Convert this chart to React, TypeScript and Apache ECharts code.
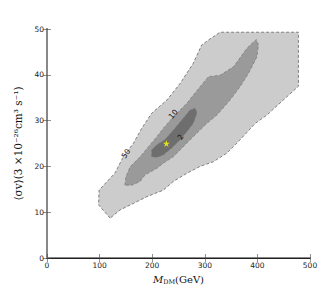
import React, { useEffect, useRef } from "react";
import * as echarts from "echarts";

// Contour regions [M_DM (GeV), <sigma v> (3e-26 cm^3/s)]
const contour50: number[][] = [
  [120, 8.7], [98, 11.6], [99, 14.8], [114, 16.7], [129, 18.5], [145, 22.1],
  [164, 25.0], [180, 28.3], [199, 31.6], [228, 34.5], [253, 38.1], [278, 42.5],
  [294, 46.5], [307, 47.6], [329, 49.3], [478, 49.3], [478, 37.5], [456, 35.2],
  [418, 31.2], [396, 29.4], [367, 25.8], [342, 22.9], [316, 21.0], [291, 20.0],
  [266, 18.5], [240, 16.7], [221, 14.8], [190, 13.4], [164, 11.9], [139, 10.5],
];
const contour10: number[][] = [
  [148, 15.9], [150, 17.7], [158, 19.9], [177, 22.1], [193, 24.3], [209, 26.5],
  [221, 28.3], [240, 30.8], [266, 33.8], [291, 37.4], [307, 39.6], [329, 39.9],
  [355, 41.8], [380, 45.8], [393, 47.2], [398, 47.7], [402, 46.5], [399, 43.9],
  [383, 40.3], [367, 37.4], [348, 34.5], [323, 31.2], [304, 29.4], [288, 27.6],
  [272, 25.8], [253, 23.6], [240, 22.1], [221, 20.7], [209, 19.6], [186, 18.1],
  [177, 16.7], [161, 15.9],
];
const contour2: number[][] = [
  [199, 22.1], [199, 23.6], [209, 24.7], [224, 25.8], [240, 27.9], [256, 30.1],
  [272, 32.3], [282, 32.7], [285, 31.6], [278, 29.4], [266, 27.6], [253, 25.8],
  [237, 24.0], [221, 22.5], [209, 22.0],
];
const contourColors = ["#cccccc", "#9a9a9a", "#6e6e6e"];
const contourLabels = ["50", "10", "2"];
const labelPositions: number[][] = [[150, 22.8], [240, 31.4], [254, 26.4]];
const labelRotations = [55, 50, 55];
const bestFit: number[][] = [[227, 25.0]];

const xTicks = [0, 100, 200, 300, 400, 500];
const yTicks = [0, 10, 20, 30, 40, 50];

const STAR =
  "path://M50,0 L61.8,35.4 L100,35.4 L69.1,57.3 L80.9,92.7 L50,70.8 L19.1,92.7 L30.9,57.3 L0,35.4 L38.2,35.4 Z";

export default function App() {
  const ref = useRef<HTMLDivElement>(null);
  useEffect(() => {
    if (!ref.current) return;
    const chart = echarts.init(ref.current, undefined, { renderer: "svg" });
    const regions = [contour50, contour10, contour2];
    const tickFont = { fontSize: 7.5, color: "#222", fontFamily: "DejaVu Sans" };
    const polySeries = regions.map((pts, i) => ({
      type: "custom",
      coordinateSystem: "cartesian2d",
      data: [[0, 0]],
      clip: true,
      silent: true,
      renderItem: (_params: any, api: any) => ({
        type: "polygon",
        shape: { points: pts.map((p) => api.coord(p)) },
        style: {
          fill: contourColors[i],
          stroke: i === 0 ? "#555" : "#777",
          lineWidth: 0.7,
          lineDash: [3, 2],
        },
      }),
    }));
    const labelSeries = {
      type: "custom",
      coordinateSystem: "cartesian2d",
      data: labelPositions.map((p, i) => [p[0], p[1], i]),
      silent: true,
      renderItem: (_params: any, api: any) => {
        const idx = api.value(2);
        const c = api.coord([api.value(0), api.value(1)]);
        return {
          type: "text",
          x: c[0],
          y: c[1],
          rotation: (labelRotations[idx] * Math.PI) / 180,
          style: {
            text: contourLabels[idx],
            fill: "#111",
            fontSize: 7.5,
            fontFamily: "DejaVu Sans",
            align: "center",
            verticalAlign: "middle",
          },
        };
      },
    };
    chart.setOption({
      animation: false,
      backgroundColor: "#fff",
      grid: { left: 47, right: 26, top: 29, bottom: 36 },
      xAxis: [
        {
          type: "value",
          min: 0,
          max: 500,
          interval: 100,
          position: "bottom",
          name: "{i|M}{s|DM}{n|(GeV)}",
          nameLocation: "middle",
          nameGap: 15,
          nameTextStyle: {
            rich: {
              i: { fontFamily: "DejaVu Serif", fontStyle: "italic", fontSize: 10, color: "#111" },
              s: { fontFamily: "DejaVu Serif", fontSize: 6.5, color: "#111", padding: [5, 0, 0, 0] },
              n: { fontFamily: "DejaVu Serif", fontSize: 10, color: "#111" },
            },
          },
          axisLine: { show: true, lineStyle: { color: "#888", width: 2 } },
          axisTick: { show: true, inside: true, length: 4, lineStyle: { color: "#444", width: 0.6 } },
          axisLabel: {
            ...tickFont,
            margin: 3,
            formatter: (v: number) => (xTicks.includes(v) ? String(v) : ""),
          },
          splitLine: { show: false },
        },
        {
          type: "value",
          min: 0,
          max: 500,
          interval: 100,
          position: "top",
          axisLine: { show: true, lineStyle: { color: "#222", width: 1 } },
          axisTick: { show: true, inside: true, length: 4, lineStyle: { color: "#444", width: 0.6 } },
          axisLabel: { show: false },
          splitLine: { show: false },
        },
      ],
      yAxis: [
        {
          type: "value",
          min: 0,
          max: 50,
          interval: 10,
          position: "left",
          name: "⟨σv⟩(3 ×10⁻²⁶cm³ s⁻¹)",
          nameLocation: "middle",
          nameGap: 22,
          nameRotate: 90,
          nameTextStyle: { fontFamily: "DejaVu Serif", fontSize: 10.5, color: "#111" },
          axisLine: { show: true, lineStyle: { color: "#888", width: 2 } },
          axisTick: { show: true, inside: true, length: 4, lineStyle: { color: "#444", width: 0.6 } },
          axisLabel: {
            ...tickFont,
            margin: 3,
            formatter: (v: number) => (yTicks.includes(v) ? String(v) : ""),
          },
          splitLine: { show: false },
        },
        {
          type: "value",
          min: 0,
          max: 50,
          interval: 10,
          position: "right",
          axisLine: { show: true, lineStyle: { color: "#888", width: 2 } },
          axisTick: { show: true, inside: true, length: 4, lineStyle: { color: "#444", width: 0.6 } },
          axisLabel: { show: false },
          splitLine: { show: false },
        },
      ],
      series: [
        ...polySeries,
        labelSeries,
        {
          type: "scatter",
          data: bestFit,
          symbol: STAR,
          symbolSize: 7,
          itemStyle: { color: "#ffff00" },
          silent: true,
          z: 5,
        },
      ],
    });
    return () => chart.dispose();
  }, []);
  return (
    <div
      ref={ref}
      style={{ position: "absolute", left: 0, top: 0, width: 336, height: 294 }}
    />
  );
}
